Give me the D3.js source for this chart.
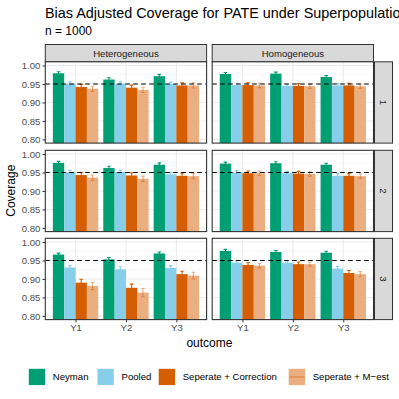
<!DOCTYPE html>
<html><head><meta charset="utf-8">
<script src="https://cdn.jsdelivr.net/npm/d3@7"></script>
<style>body{margin:0;background:#fff}svg{display:block}text{font-family:"Liberation Sans",Arial,sans-serif}</style>
</head><body><svg id="c" width="399" height="399"></svg>
<script>
// ---- data ----
const outcomes = ["Y1", "Y2", "Y3"];
const methods = ["Neyman", "Pooled", "Seperate + Correction", "Seperate + M\u2212est"];
const models = ["Heterogeneous", "Homogeneous"];
const sampleGroups = ["1", "2", "3"];
const yTicks = [0.80, 0.85, 0.90, 0.95, 1.00];
const target = 0.95;
// coverage per outcome (rows) x method (cols)
const covHet1 = [[0.979, 0.951, 0.942, 0.937], [0.962, 0.951, 0.940, 0.934], [0.971, 0.950, 0.946, 0.946]];
const covHom1 = [[0.977, 0.947, 0.947, 0.946], [0.978, 0.945, 0.945, 0.944], [0.969, 0.946, 0.946, 0.944]];
const covHet2 = [[0.976, 0.951, 0.943, 0.936], [0.962, 0.951, 0.942, 0.933], [0.971, 0.945, 0.941, 0.940]];
const covHom2 = [[0.974, 0.950, 0.948, 0.948], [0.975, 0.948, 0.947, 0.946], [0.971, 0.941, 0.941, 0.940]];
const covHet3 = [[0.966, 0.931, 0.890, 0.881], [0.953, 0.926, 0.876, 0.863], [0.969, 0.930, 0.913, 0.909]];
const covHom3 = [[0.976, 0.944, 0.938, 0.936], [0.973, 0.944, 0.940, 0.940], [0.971, 0.928, 0.916, 0.913]];
// error bar half-widths
const errHet1 = [[0.004, 0.005, 0.007, 0.007], [0.005, 0.005, 0.007, 0.007], [0.005, 0.005, 0.007, 0.007]];
const errHom1 = [[0.004, 0.005, 0.006, 0.006], [0.004, 0.005, 0.006, 0.006], [0.004, 0.005, 0.006, 0.006]];
const errHet2 = [[0.004, 0.005, 0.007, 0.007], [0.005, 0.005, 0.007, 0.007], [0.005, 0.005, 0.007, 0.007]];
const errHom2 = [[0.004, 0.005, 0.006, 0.006], [0.004, 0.005, 0.006, 0.006], [0.004, 0.006, 0.006, 0.006]];
const errHet3 = [[0.004, 0.006, 0.009, 0.010], [0.005, 0.007, 0.010, 0.011], [0.004, 0.006, 0.008, 0.009]];
const errHom3 = [[0.004, 0.005, 0.006, 0.006], [0.004, 0.005, 0.006, 0.006], [0.004, 0.006, 0.007, 0.007]];
const fillColors = ["#009E73", "#87CEEB", "#D55E00", "#EAAE80"];
const lineColors = ["#009E73", "#87CEEB", "#D55E00", "rgba(213,94,0,0.5)"];

const panels = [
  [covHet1, covHom1, errHet1, errHom1],
  [covHet2, covHom2, errHet2, errHom2],
  [covHet3, covHom3, errHet3, errHom3]
];

// ---- layout ----
const svg = d3.select("#c");
const font = '"Liberation Sans",Arial,sans-serif';
const small = 9.6, big = 12;
const colX = [45.3, 212.2], panelW = 161.3;
const rowY = [61.8, 150.3, 238.3], panelH = 81.3;
const stripTop = 44.5;

svg.append("text").attr("x", 45).attr("y", 17.5).attr("font-size", 14.4).attr("fill", "#000")
  .text("Bias Adjusted Coverage for PATE under Superpopulation");
svg.append("text").attr("x", 45).attr("y", 34.5).attr("font-size", big).attr("fill", "#000").text("n = 1000");

// ggplot discrete: centers at 0.6, 1.6, 2.6 of 3.2 units
const xc = d3.scalePoint().domain(outcomes).range([panelW * 0.6 / 3.2, panelW * 2.6 / 3.2]);
const unit = panelW / 3.2;
const xm = d3.scaleBand().domain(methods).range([-0.45 * unit, 0.45 * unit]);
const y = d3.scaleLinear().domain([0.79, 1.01]).range([panelH, 0]);
const minorTicks = [0.825, 0.875, 0.925, 0.975];

// top strips
models.forEach((m, ci) => {
  const g = svg.append("g").attr("transform", `translate(${colX[ci]},${stripTop})`);
  g.append("rect").attr("width", panelW).attr("height", rowY[0] - stripTop).attr("fill", "#D9D9D9").attr("stroke", "#333").attr("stroke-width", 1);
  g.append("text").attr("x", panelW / 2).attr("y", (rowY[0] - stripTop) / 2 + 3.4).attr("text-anchor", "middle")
    .attr("font-size", small).attr("fill", "#1A1A1A").text(m);
});

panels.forEach((pr, ri) => {
  // right strip
  const sx = colX[1] + panelW + 1, sw = 18;
  const sg = svg.append("g").attr("transform", `translate(${sx},${rowY[ri]})`);
  sg.append("rect").attr("width", sw).attr("height", panelH).attr("fill", "#D9D9D9").attr("stroke", "#333").attr("stroke-width", 1);
  sg.append("text").attr("transform", `translate(${sw / 2 - 3.4},${panelH / 2}) rotate(90)`).attr("text-anchor", "middle")
    .attr("font-size", small).attr("fill", "#1A1A1A").text(sampleGroups[ri]);

  [0, 1].forEach(ci => {
    const cov = pr[ci], err = pr[ci + 2];
    const g = svg.append("g").attr("transform", `translate(${colX[ci]},${rowY[ri]})`);
    g.append("rect").attr("width", panelW).attr("height", panelH).attr("fill", "#fff");
    g.selectAll(".mn").data(minorTicks).join("line").attr("x1", 0).attr("x2", panelW)
      .attr("y1", d => y(d)).attr("y2", d => y(d)).attr("stroke", "#F2F2F2").attr("stroke-width", 0.6);
    g.selectAll(".mj").data(yTicks).join("line").attr("x1", 0).attr("x2", panelW)
      .attr("y1", d => y(d)).attr("y2", d => y(d)).attr("stroke", "#EBEBEB").attr("stroke-width", 1.1);
    g.selectAll(".vx").data(outcomes).join("line").attr("x1", d => xc(d)).attr("x2", d => xc(d))
      .attr("y1", 0).attr("y2", panelH).attr("stroke", "#EBEBEB").attr("stroke-width", 1.1);

    outcomes.forEach((o, oi) => {
      methods.forEach((m, mi) => {
        const v = cov[oi][mi];
        const bx = xc(o) + xm(m);
        g.append("rect").attr("x", bx).attr("width", xm.bandwidth()).attr("y", y(v)).attr("height", panelH - y(v))
          .attr("fill", fillColors[mi]);
      });
      methods.forEach((m, mi) => {
        const v = cov[oi][mi], e = err[oi][mi];
        const cx = xc(o) + xm(m) + xm.bandwidth() / 2, hw = 1.8;
        const path = `M${cx - hw},${y(v + e)}H${cx + hw}M${cx},${y(v + e)}V${y(v - e)}M${cx - hw},${y(v - e)}H${cx + hw}`;
        g.append("path").attr("d", path).attr("fill", "none").attr("stroke", lineColors[mi]).attr("stroke-width", 1.1);
      });
    });

    g.append("line").attr("x1", 0).attr("x2", panelW).attr("y1", y(target)).attr("y2", y(target))
      .attr("stroke", "#000").attr("stroke-width", 1.1).attr("stroke-dasharray", "4.5,3.5");
    g.append("rect").attr("width", panelW).attr("height", panelH).attr("fill", "none").attr("stroke", "#333").attr("stroke-width", 1.1);

    if (ci === 0) {
      const ax = d3.axisLeft(y).tickValues(yTicks).tickFormat(d3.format(".2f")).tickSize(2.75).tickPadding(2.2);
      const a = g.append("g").call(ax);
      a.select(".domain").remove();
      a.selectAll("line").attr("stroke", "#333");
      a.selectAll("text").attr("font-size", small).attr("fill", "#4D4D4D").attr("font-family", font).attr("dy", "0.36em");
    }
    if (ri === 2) {
      const ax = d3.axisBottom(xc).tickSize(2.75).tickPadding(2.2);
      const a = g.append("g").attr("transform", `translate(0,${panelH})`).call(ax);
      a.select(".domain").remove();
      a.selectAll("line").attr("stroke", "#333");
      a.selectAll("text").attr("font-size", small).attr("fill", "#4D4D4D").attr("font-family", font);
    }
  });
});

// axis titles
svg.append("text").attr("transform", `translate(15,${(rowY[0] + rowY[2] + panelH) / 2}) rotate(-90)`)
  .attr("text-anchor", "middle").attr("font-size", big).attr("fill", "#000").text("Coverage");
svg.append("text").attr("x", (colX[0] + colX[1] + panelW) / 2).attr("y", 347)
  .attr("text-anchor", "middle").attr("font-size", big).attr("fill", "#000").text("outcome");

// legend
const keyX = [28.3, 97, 158.2, 288.2];
methods.forEach((m, mi) => {
  const g = svg.append("g").attr("transform", `translate(${keyX[mi]},368.3)`);
  g.append("rect").attr("width", 17.3).attr("height", 17.3).attr("fill", "#fff");
  g.append("rect").attr("x", 0.5).attr("y", 0.5).attr("width", 16.3).attr("height", 16.3).attr("fill", fillColors[mi]);
  g.append("line").attr("x1", 1).attr("x2", 16.3).attr("y1", 8.65).attr("y2", 8.65).attr("stroke", lineColors[mi]).attr("stroke-width", 1.1);
  g.append("text").attr("x", 24.5).attr("y", 12).attr("font-size", small).attr("fill", "#000").text(m);
});
</script></body></html>
